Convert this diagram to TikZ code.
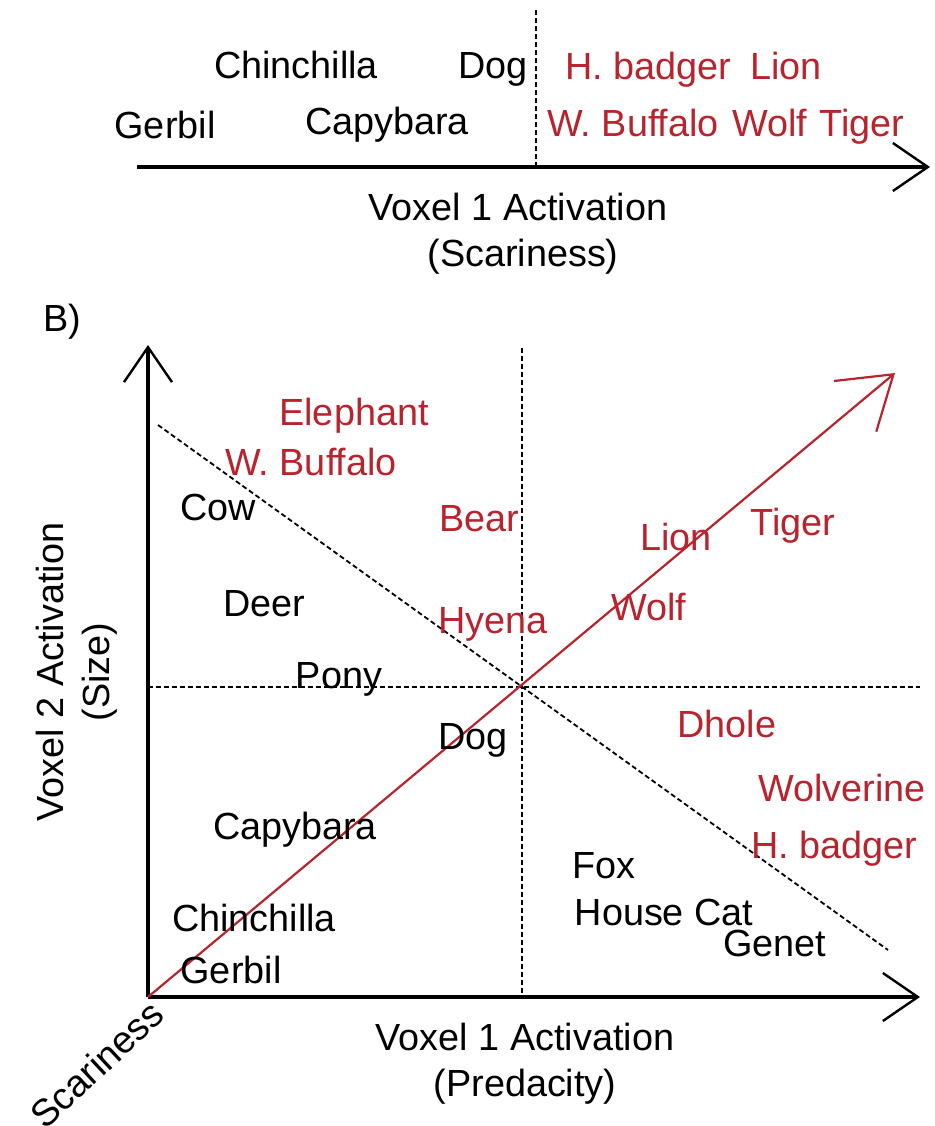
\documentclass[tikz,border=0pt]{standalone}
\usepackage{fontspec}
\setmainfont{Liberation Sans}
\usepackage{xcolor}
\usetikzlibrary{arrows.meta}
\usetikzlibrary{calc}
\definecolor{fiercered}{RGB}{185,35,45}

\begin{document}
\begin{tikzpicture}[x=0.5pt,y=-0.5pt,>={Straight Barb[length=17.5pt,width=24pt,line width=1.2pt]},font=\fontsize{18.9}{22}\selectfont]
 \tikzstyle{every node}=[inner sep=0pt, anchor=base]
 \tikzstyle{calm}=[text=black]
 \tikzstyle{fierce}=[text=fiercered]
 \tikzstyle{guide}=[line width=0.9pt, dash pattern=on 2.5pt off 1.5pt]
 \tikzstyle{axis}=[line width=2pt, ->]
 \useasboundingbox (0,0) rectangle (935,1126);
 % A) one voxel
 \coordinate (tl) at (137,167);
 \coordinate (tr) at (930,167);
 \coordinate (ttop) at (536,10);
 \coordinate (tbot) at (536,167);
 \draw[guide] (ttop) -- (tbot);
 \draw[axis] (tl) -- (tr);
 \node[calm]   (a-chin) at (296,78)  {Chinchilla};
 \node[calm]   (a-dog)  at (493,78)  {Dog};
 \node[fierce] (a-hb)   at (648,79)  {H. badger};
 \node[fierce] (a-lion) at (786,79)  {Lion};
 \node[calm]   (a-ger)  at (165,138) {Gerbil};
 \node[calm]   (a-cap)  at (387,134) {Capybara};
 \node[fierce] (a-wb)   at (633,136) {W. Buffalo};
 \node[fierce] (a-wolf) at (770,136) {Wolf};
 \node[fierce] (a-tig)  at (862,136) {Tiger};
 \node[calm] (a-x1) at (518,220) {Voxel 1 Activation};
 \node[calm] (a-x2) at (523,266) {(Scariness)};
 % B) two voxels
 \node[calm] (blabel) at (62,331) {B)};
 \coordinate (O) at (148,997);
 \coordinate (xend) at (920,997);
 \coordinate (yend) at (148,345);
 \coordinate (send) at (895,373);
 \coordinate (vtop) at (522,348);
 \coordinate (vbot) at (522,997);
 \coordinate (hl) at (148,687);
 \coordinate (hr) at (920,687);
 \coordinate (dl) at (158,425);
 \coordinate (dr) at (888,950);
 \draw[guide] (vtop) -- (vbot);
 \draw[guide] (hl) -- (hr);
 \draw[guide] (dl) -- (dr);
 \draw[axis] (O) -- (xend);
 \draw[axis] (O) -- (yend);
 \draw[fiercered, line width=1.1pt, -{Straight Barb[length=25pt,width=33pt,line width=1.1pt]}] (O) -- (send);
 \node[fierce] (b-ele)  at (354,425) {Elephant};
 \node[fierce] (b-wb)   at (311,475) {W. Buffalo};
 \node[calm]   (b-cow)  at (218,520) {Cow};
 \node[fierce] (b-bear) at (479,531) {Bear};
 \node[fierce] (b-lion) at (676,550) {Lion};
 \node[fierce] (b-tig)  at (793,535) {Tiger};
 \node[calm]   (b-deer) at (264,616) {Deer};
 \node[fierce] (b-hy)   at (493,633) {Hyena};
 \node[fierce] (b-wolf) at (649,620) {Wolf};
 \node[calm]   (b-pony) at (339,688) {Pony};
 \node[calm]   (b-dog)  at (473,749) {Dog};
 \node[fierce] (b-dh)   at (727,737) {Dhole};
 \node[fierce] (b-wv)   at (842,801) {Wolverine};
 \node[calm]   (b-cap)  at (295,839) {Capybara};
 \node[fierce] (b-hb)   at (834,858) {H. badger};
 \node[calm]   (b-fox)  at (604,878) {Fox};
 \node[calm]   (b-cat)  at (664,925) {House Cat};
 \node[calm]   (b-gen)  at (775,956) {Genet};
 \node[calm]   (b-chin) at (254,931) {Chinchilla};
 \node[calm]   (b-ger)  at (231,983) {Gerbil};
 \node[calm] (b-x1) at (525,1050) {Voxel 1 Activation};
 \node[calm] (b-x2) at (525,1096) {(Predacity)};
 \node[calm, rotate=90, anchor=center] (b-y1) at (50,672) {Voxel 2 Activation};
 \node[calm, rotate=90, anchor=center] (b-y2) at (100,672) {(Size)};
 \node[calm, rotate=43, anchor=north east] (b-s) at (O) {Scariness};
\end{tikzpicture}
\end{document}
